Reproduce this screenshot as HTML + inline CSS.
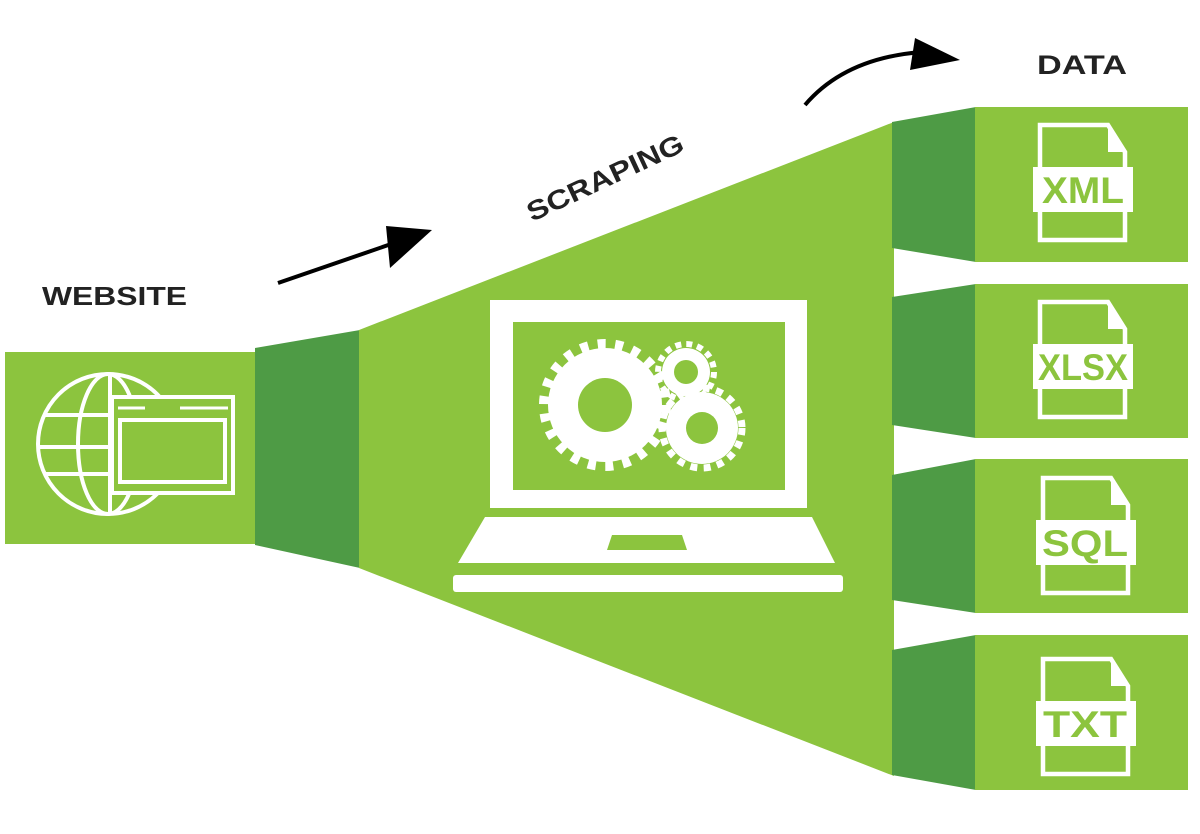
<!DOCTYPE html>
<html><head><meta charset="utf-8"><style>
html,body{margin:0;padding:0;background:#fff;}
svg{display:block;}
text{font-family:"Liberation Sans",sans-serif;font-weight:bold;}
</style></head><body>
<svg width="1200" height="834" viewBox="0 0 1200 834" xmlns="http://www.w3.org/2000/svg">
<defs>
<g id="doc">
  <path d="M0,0 H68 L85,27 V115 H0 Z" fill="none" stroke="#fff" stroke-width="4.5"/>
  <path d="M68,0 V27 H85 Z" fill="#fff"/>
  <rect x="-7" y="42" width="100" height="45" fill="#fff"/>
</g>
</defs>
<rect x="5" y="352" width="251" height="192" fill="#8cc43e"/>
<polygon points="255,348 360,330 360,568 255,545" fill="#4e9b45"/>
<polygon points="359,330 894,122 894,776 359,568" fill="#8cc43e"/>
<polygon points="892,122 976,107 976,262 892,248" fill="#4e9b45"/>
<polygon points="892,297 976,284 976,438 892,425" fill="#4e9b45"/>
<polygon points="892,475 976,459 976,613 892,600" fill="#4e9b45"/>
<polygon points="892,650 976,635 976,790 892,775" fill="#4e9b45"/>
<rect x="975" y="107" width="213" height="155" fill="#8cc43e"/>
<rect x="975" y="284" width="213" height="154" fill="#8cc43e"/>
<rect x="975" y="459" width="213" height="154" fill="#8cc43e"/>
<rect x="975" y="635" width="213" height="155" fill="#8cc43e"/>

<use href="#doc" x="1040" y="125"/>
<text x="1083" y="203" font-size="37" fill="#8cc43e" text-anchor="middle" textLength="82" lengthAdjust="spacingAndGlyphs">XML</text>
<use href="#doc" x="1040" y="302"/>
<text x="1083" y="380" font-size="37" fill="#8cc43e" text-anchor="middle" textLength="90" lengthAdjust="spacingAndGlyphs">XLSX</text>
<use href="#doc" x="1043" y="478"/>
<text x="1085" y="556" font-size="37" fill="#8cc43e" text-anchor="middle" textLength="86" lengthAdjust="spacingAndGlyphs">SQL</text>
<use href="#doc" x="1043" y="659"/>
<text x="1085" y="737" font-size="37" fill="#8cc43e" text-anchor="middle" textLength="84" lengthAdjust="spacingAndGlyphs">TXT</text>

<g fill="none" stroke="#fff" stroke-width="4">
  <circle cx="108" cy="444" r="70"/>
  <ellipse cx="108" cy="444" rx="30" ry="70"/>
  <line x1="110" y1="374" x2="110" y2="514"/>
  <line x1="44" y1="415" x2="172" y2="415"/>
  <line x1="38" y1="447" x2="178" y2="447"/>
  <line x1="44" y1="474" x2="172" y2="474"/>
</g>
<rect x="112" y="397" width="121" height="96" fill="#8cc43e" stroke="#fff" stroke-width="4"/>
<rect x="120" y="420" width="105" height="62" fill="#8cc43e" stroke="#fff" stroke-width="4"/>
<line x1="118" y1="408" x2="145" y2="408" stroke="#fff" stroke-width="3"/>
<line x1="180" y1="408" x2="228" y2="408" stroke="#fff" stroke-width="3"/>

<rect x="490" y="300" width="317" height="208" fill="#fff"/>
<rect x="513" y="322" width="272" height="168" fill="#8cc43e"/>
<polygon points="485,517 812,517 835,563 458,563" fill="#fff"/>
<polygon points="612,535 682,535 687,550 607,550" fill="#8cc43e"/>
<rect x="453" y="575" width="390" height="17" rx="3" fill="#fff"/>
<g fill="#fff">
  <circle cx="605" cy="405" r="57"/>
  <circle cx="605" cy="405" r="61" fill="none" stroke="#fff" stroke-width="10" stroke-dasharray="8 9.5"/>
  <circle cx="686" cy="372" r="24"/>
  <circle cx="686" cy="372" r="28" fill="none" stroke="#fff" stroke-width="6" stroke-dasharray="6 5"/>
  <circle cx="702" cy="428" r="36"/>
  <circle cx="702" cy="428" r="40" fill="none" stroke="#fff" stroke-width="7" stroke-dasharray="7 6.5"/>
</g>
<circle cx="605" cy="405" r="27" fill="#8cc43e"/>
<circle cx="686" cy="372" r="12" fill="#8cc43e"/>
<circle cx="702" cy="428" r="16" fill="#8cc43e"/>

<line x1="278" y1="283" x2="400" y2="241" stroke="#000" stroke-width="4"/>
<polygon points="432,230 386,226 390,268" fill="#000"/>
<path d="M805,105 Q845,58 922,52" fill="none" stroke="#000" stroke-width="4"/>
<polygon points="960,60 915,38 910,70" fill="#000"/>

<text x="42" y="305" font-size="26" fill="#222" textLength="145" lengthAdjust="spacingAndGlyphs">WEBSITE</text>
<text x="1037" y="74" font-size="27" fill="#222" textLength="90" lengthAdjust="spacingAndGlyphs">DATA</text>
<text x="0" y="0" font-size="27" fill="#222" textLength="170" lengthAdjust="spacingAndGlyphs" transform="translate(532,222) rotate(-25)">SCRAPING</text>
</svg>
</body></html>
